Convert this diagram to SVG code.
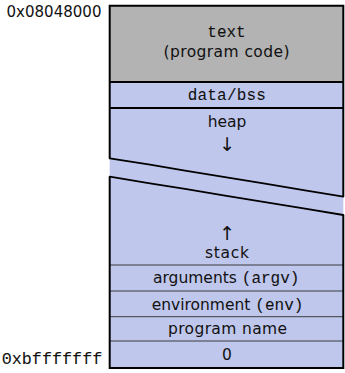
<svg xmlns="http://www.w3.org/2000/svg" width="345" height="373" viewBox="0 0 345 373">
  <style>
    .seg-gray { fill: #b3b3b3; }
    .seg-blue { fill: #bfc7ec; }
    .sans { font-family: "DejaVu Sans", "Liberation Sans", sans-serif; font-size: 15.5px; fill: #111; }
    .mono { font-family: "Liberation Mono", "DejaVu Sans Mono", monospace; font-size: 16px; fill: #111; stroke: #111; stroke-width: 0.08; }
    .addr-sans { font-family: "DejaVu Sans", "Liberation Sans", sans-serif; font-size: 15px; fill: #111; }
    .mid { text-anchor: middle; }
    .arrow { font-family: "DejaVu Sans", sans-serif; font-size: 19px; fill: #111; text-anchor: middle; }
    .thick { stroke: #000; stroke-width: 2; fill: none; }
    .thin { stroke: #2a2a2a; stroke-width: 0.9; fill: none; }
    .break { stroke: #000; stroke-width: 1.8; fill: none; stroke-linecap: round; }
  </style>

  <!-- address labels -->
  <g id="addr-low">
    <text class="addr-sans" x="6.5" y="17.3" textLength="95" lengthAdjust="spacingAndGlyphs">0x08048000</text>
  </g>
  <g id="addr-high">
    <text class="mono" x="1.7" y="364" textLength="100.6" lengthAdjust="spacingAndGlyphs">0xbfffffff</text>
  </g>

  <!-- memory segments -->
  <g id="text-seg">
    <rect class="seg-gray" x="109.7" y="5.8" width="233.6" height="76.2"/>
    <text class="mono mid" x="226.5" y="37.3">text</text>
    <text class="sans mid" x="226.5" y="56.5" textLength="126" lengthAdjust="spacing">(program code)</text>
  </g>
  <g id="data-seg">
    <rect class="seg-blue" x="109.7" y="82" width="233.6" height="26"/>
    <text class="mono mid" x="226.8" y="100" textLength="78.3" lengthAdjust="spacing">data/bss</text>
  </g>
  <g id="heap-seg">
    <polygon class="seg-blue" points="109.7,108 343.3,108 343.3,196.7 109.7,158.3"/>
    <text class="sans mid" x="227" y="127.3">heap</text>
    <text class="arrow" x="227.3" y="151">↓</text>
  </g>
  <g id="gap">
    <polygon class="seg-blue" points="109.7,158.3 343.3,196.7 343.3,215 109.7,176.7"/>
  </g>
  <g id="stack-seg">
    <polygon class="seg-blue" points="109.7,176.7 343.3,215 343.3,265 109.7,265"/>
    <text class="arrow" x="227.3" y="240">↑</text>
    <text class="sans mid" x="227" y="257.7" textLength="44" lengthAdjust="spacing">stack</text>
  </g>
  <g id="argv-seg">
    <rect class="seg-blue" x="109.7" y="265" width="233.6" height="26"/>
    <text class="sans" x="153" y="283.3">arguments <tspan class="mono">(argv)</tspan></text>
  </g>
  <g id="env-seg">
    <rect class="seg-blue" x="109.7" y="291" width="233.6" height="25.7"/>
    <text class="sans" x="151.7" y="309.5">environment <tspan class="mono">(env)</tspan></text>
  </g>
  <g id="progname-seg">
    <rect class="seg-blue" x="109.7" y="316.7" width="233.6" height="24.3"/>
    <text class="sans mid" x="227.5" y="333.5" textLength="119" lengthAdjust="spacing">program name</text>
  </g>
  <g id="zero-seg">
    <rect class="seg-blue" x="109.7" y="341" width="233.6" height="27"/>
    <text class="sans mid" x="227" y="359.5">0</text>
  </g>

  <!-- boundaries and the cut through the unused middle -->
  <g id="connectors">
    <line class="thick" x1="109.7" y1="82" x2="343.3" y2="82"/>
    <line class="thick" x1="109.7" y1="108" x2="343.3" y2="108"/>
    <line class="thin" x1="109.7" y1="265" x2="343.3" y2="265"/>
    <line class="thin" x1="109.7" y1="291" x2="343.3" y2="291"/>
    <line class="thin" x1="109.7" y1="316.7" x2="343.3" y2="316.7"/>
    <line class="thin" x1="109.7" y1="341" x2="343.3" y2="341"/>
    <path class="thick" d="M109.7,158.3 V5.8 H343.3 V196.7"/>
    <path class="thick" d="M109.7,176.7 V368 H343.3 V215"/>
    <path class="break" d="M109.7,158.3 L150,164.6 L185,170.6 L225,177.2 L265,183.7 L305,190.3 L343.3,196.7"/>
    <path class="break" d="M109.7,176.7 L150,183.3 L185,188.8 L225,195.6 L265,202.1 L305,208.7 L343.3,215"/>
  </g>
</svg>
